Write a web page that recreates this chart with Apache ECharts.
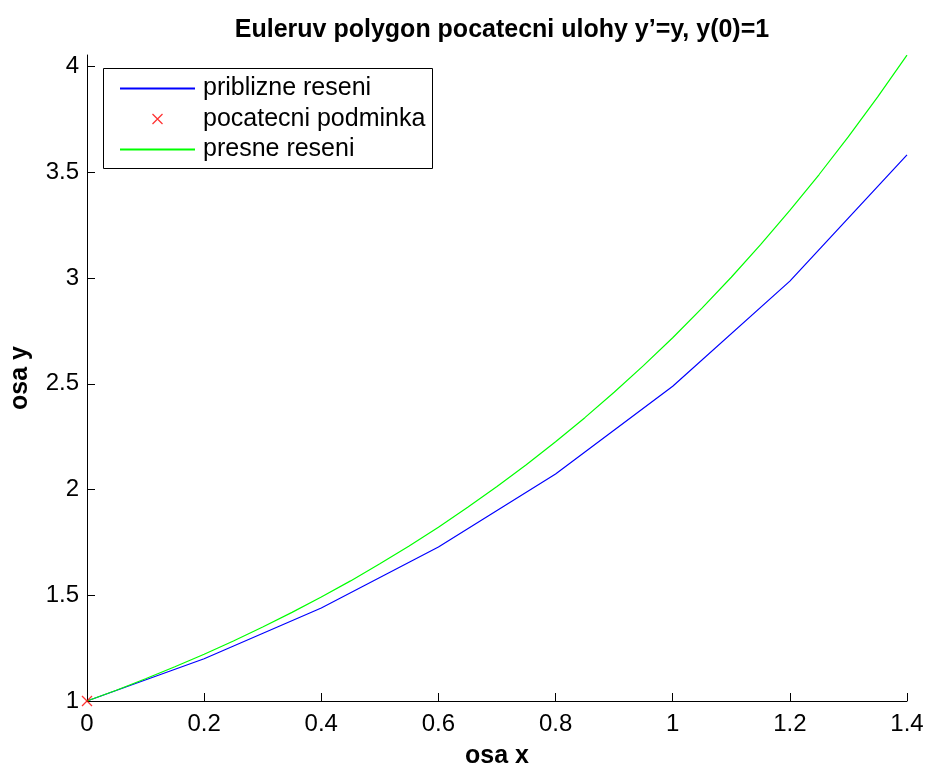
<!DOCTYPE html>
<html>
<head>
<meta charset="utf-8">
<script src="https://cdn.jsdelivr.net/npm/echarts@6/dist/echarts.min.js"></script>
<style>
html,body{margin:0;padding:0;background:#fff;}
#chart{width:928px;height:766px;}
</style>
</head>
<body>
<div id="chart"></div>
<script>
// Euler polygon (step 0.2)
const eulerX = [0, 0.2, 0.4, 0.6, 0.8, 1.0, 1.2, 1.4];
const eulerY = [1, 1.2, 1.44, 1.728, 2.0736, 2.4883, 2.986, 3.5832];
// exact solution
const exactX = [0, 0.05, 0.1, 0.15, 0.2, 0.25, 0.3, 0.35, 0.4, 0.45, 0.5, 0.55, 0.6, 0.65, 0.7,
                0.75, 0.8, 0.85, 0.9, 0.95, 1.0, 1.05, 1.1, 1.15, 1.2, 1.25, 1.3, 1.35, 1.4];
const exactY = [1, 1.051, 1.105, 1.162, 1.221, 1.284, 1.350, 1.419, 1.492, 1.568, 1.649, 1.733,
                1.822, 1.916, 2.014, 2.117, 2.226, 2.340, 2.460, 2.586, 2.718, 2.858, 3.004,
                3.158, 3.320, 3.490, 3.669, 3.857, 4.055];
// initial condition
const initX = [0];
const initY = [1];
const yTicks = [1, 1.5, 2, 2.5, 3, 3.5, 4];
const xTicks = [0, 0.2, 0.4, 0.6, 0.8, 1, 1.2, 1.4];
const names = ['priblizne reseni', 'pocatecni podminka', 'presne reseni'];

const FONT = "'Liberation Sans', Arial, Helvetica, sans-serif";
const zip = (xs, ys) => xs.map((x, i) => [x, ys[i]]);
const noMarker = {color: 'transparent', borderColor: 'transparent', borderWidth: 0};

const chart = echarts.init(document.getElementById('chart'), null, {renderer: 'canvas'});
chart.setOption({
  backgroundColor: '#fff',
  animation: false,
  title: {
    text: 'Euleruv polygon pocatecni ulohy y\u2019=y, y(0)=1',
    left: 497, top: 13, textAlign: 'center',
    textStyle: {fontFamily: FONT, fontSize: 25, fontWeight: 'bold', color: '#000'}
  },
  grid: {left: 87, right: 21, top: 55, bottom: 65, containLabel: false, outerBoundsMode: 'none'},
  xAxis: {
    type: 'value', min: 0, max: 1.4, interval: 0.2,
    name: 'osa x', nameLocation: 'middle', nameGap: 43,
    nameTextStyle: {fontFamily: FONT, fontSize: 25, fontWeight: 'bold', color: '#000'},
    axisLine: {show: true, onZero: false, lineStyle: {color: '#000', width: 1}},
    axisTick: {show: true, inside: true, length: 8, lineStyle: {color: '#000'}, customValues: xTicks},
    axisLabel: {fontFamily: FONT, fontSize: 24, color: '#000', margin: 11, customValues: xTicks},
    splitLine: {show: false}
  },
  yAxis: {
    type: 'value', min: 1, max: 4.0552, interval: 0.5,
    name: 'osa y', nameLocation: 'middle', nameGap: 54, nameRotate: 90,
    nameTextStyle: {fontFamily: FONT, fontSize: 25, fontWeight: 'bold', color: '#000'},
    axisLine: {show: true, onZero: false, lineStyle: {color: '#000', width: 1}},
    axisTick: {show: true, inside: true, length: 8, lineStyle: {color: '#000'}, customValues: yTicks},
    axisLabel: {fontFamily: FONT, fontSize: 24, color: '#000', margin: 8, customValues: yTicks},
    splitLine: {show: false}
  },
  legend: {
    orient: 'vertical', left: 119, top: 76, padding: 0,
    itemWidth: 75, itemHeight: 10, itemGap: 5.5,
    textStyle: {fontFamily: FONT, fontSize: 25, color: '#000', lineHeight: 25, padding: [0, 0, 0, 3]},
    data: [
      {name: names[0], icon: 'inherit', itemStyle: noMarker},
      {name: names[1], icon: 'path://M0,0L10,10M10,0L0,10',
       itemStyle: {color: 'none', borderColor: '#ff0000', borderWidth: 1.3}},
      {name: names[2], icon: 'inherit', itemStyle: noMarker}
    ],
    selectedMode: false
  },
  graphic: [{
    type: 'rect', z: 90,
    shape: {x: 103.5, y: 68.5, width: 329, height: 100},
    style: {fill: 'none', stroke: '#000', lineWidth: 1}
  }],
  series: [
    {
      name: names[0], type: 'line', data: zip(eulerX, eulerY),
      symbol: 'none', lineStyle: {color: '#0000ff', width: 1.2}, itemStyle: {color: '#0000ff'}, z: 3
    },
    {
      name: names[1], type: 'scatter', data: zip(initX, initY), clip: false,
      symbol: 'path://M0,0L10,10M10,0L0,10', symbolSize: 10,
      itemStyle: {color: 'none', borderColor: '#ff0000', borderWidth: 1.3}, z: 5
    },
    {
      name: names[2], type: 'line', data: zip(exactX, exactY),
      symbol: 'none', lineStyle: {color: '#00ff00', width: 1.2}, itemStyle: {color: '#00ff00'}, z: 4
    }
  ]
});
</script>
</body>
</html>
